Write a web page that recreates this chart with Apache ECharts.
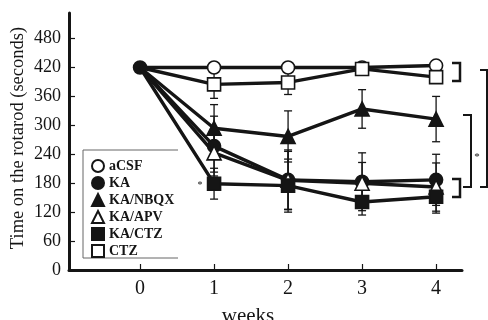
<!DOCTYPE html>
<html><head><meta charset="utf-8">
<script src="https://cdn.jsdelivr.net/npm/echarts@6/dist/echarts.min.js"></script>
<style>html,body{margin:0;padding:0;background:#fff}#c{width:488px;height:320px}</style>
</head><body><div id="c"></div>
<script>
const weeks = [0, 1, 2, 3, 4];
const yTicks = [0, 60, 120, 180, 240, 300, 360, 420, 480];
const groups = ['aCSF', 'KA', 'KA/NBQX', 'KA/APV', 'KA/CTZ', 'CTZ'];
const aCSF    = [420, 420, 420, 420, 424];
const KA      = [420, 257, 187, 183, 187];
const KA_NBQX = [420, 294, 277, 334, 313];
const KA_APV  = [420, 243, 186, 180, 172];
const KA_CTZ  = [420, 179, 175, 141, 152];
const CTZ     = [420, 385, 389, 417, 400];
const err_aCSF    = [0, 5, 5, 5, 5];
const err_KA      = [0, 62, 62, 60, 53];
const err_KA_NBQX = [0, 49, 53, 40, 47];
const err_KA_APV  = [0, 40, 60, 43, 50];
const err_KA_CTZ  = [0, 32, 55, 27, 34];
const err_CTZ     = [0, 29, 25, 6, 8];

const means = [aCSF, KA, KA_NBQX, KA_APV, KA_CTZ, CTZ];
const errs = [err_aCSF, err_KA, err_KA_NBQX, err_KA_APV, err_KA_CTZ, err_CTZ];
const symbols = ['circle', 'circle', 'triangle', 'triangle', 'rect', 'rect'];
const filled = [false, true, true, false, true, false];
const symSize = [13, 13, 14, 14, 13, 13];
const drawOrder = [4, 1, 2, 3, 0, 5];
const baselineShown = 1; // at week 0 all groups coincide; the KA marker is the one visible

const serif = '"Liberation Serif", "DejaVu Serif", serif';
const ink = '#151515';

function renderErr(params, api) {
  const x = api.value(0), m = api.value(1), e = api.value(2);
  if (!e) return null;
  const top = api.coord([x, m + e]), bot = api.coord([x, m - e]);
  const hw = 4;
  const st = { stroke: ink, lineWidth: 1.3 };
  return { type: 'group', children: [
    { type: 'line', shape: { x1: top[0], y1: top[1], x2: bot[0], y2: bot[1] }, style: st },
    { type: 'line', shape: { x1: top[0] - hw, y1: top[1], x2: top[0] + hw, y2: top[1] }, style: st },
    { type: 'line', shape: { x1: bot[0] - hw, y1: bot[1], x2: bot[0] + hw, y2: bot[1] }, style: st }
  ]};
}

const series = [];
drawOrder.forEach(i => {
  series.push({
    name: 'eb_' + groups[i], type: 'custom', z: 1, silent: true,
    renderItem: renderErr,
    data: weeks.map((w, k) => [w, means[i][k], errs[i][k]])
  });
});
drawOrder.forEach(i => {
  series.push({
    name: groups[i], type: 'line', z: 3 + i,
    symbol: symbols[i], symbolSize: symSize[i], showAllSymbol: true,
    lineStyle: { color: ink, width: 3.4 },
    itemStyle: { color: filled[i] ? ink : '#fff', borderColor: ink, borderWidth: 1.6, opacity: 1 },
    emphasis: { disabled: true },
    data: weeks.map((w, k) => (k === 0 && i !== baselineShown)
      ? { value: [w, means[i][k]], symbol: 'none' }
      : [w, means[i][k]])
  });
});

const chart = echarts.init(document.getElementById('c'), null, { renderer: 'canvas' });
chart.setOption({
  animation: false,
  backgroundColor: '#fff',
  grid: { left: 69, right: 26, top: 13, bottom: 50 },
  xAxis: {
    type: 'value', min: -0.96, max: 4.35,
    axisLine: { onZero: false, lineStyle: { color: ink, width: 3 } },
    axisTick: { inside: true, length: 6, lineStyle: { color: ink, width: 1.2 }, customValues: weeks },
    axisLabel: { customValues: weeks, color: ink, fontFamily: serif, fontSize: 20, margin: 9 },
    splitLine: { show: false }
  },
  yAxis: {
    type: 'value', min: 0, max: 533,
    axisLine: { show: true, onZero: false, lineStyle: { color: ink, width: 3 } },
    axisTick: { show: true, inside: true, length: 6, lineStyle: { color: ink, width: 1.2 }, customValues: yTicks },
    axisLabel: { customValues: yTicks, color: ink, fontFamily: serif, fontSize: 18, margin: 8 },
    splitLine: { show: false }
  },
  legend: {
    orient: 'vertical', left: 91, top: 159, padding: 0,
    itemWidth: 12, itemHeight: 12, itemGap: 3,
    lineStyle: { width: 0, opacity: 0 },
    textStyle: { fontFamily: serif, fontWeight: 'bold', fontSize: 14, color: ink },
    data: groups.map((g, i) => ({ name: g, icon: symbols[i] }))
  },
  graphic: [
    { type: 'text', x: 18, y: 138, rotation: Math.PI / 2,
      style: { text: 'Time on the rotarod (seconds)', font: '18.5px ' + serif, fill: ink, align: 'center', verticalAlign: 'middle' } },
    { type: 'text', x: 248, y: 316,
      style: { text: 'weeks', font: '21px ' + serif, fill: ink, align: 'center', verticalAlign: 'middle' } },
    { type: 'polyline', shape: { points: [[178, 150], [83, 150], [83, 258], [178, 258]] },
      style: { stroke: '#666', lineWidth: 1, fill: null } },
    { type: 'polyline', shape: { points: [[452, 63], [460, 63], [460, 81], [452, 81]] },
      style: { stroke: ink, lineWidth: 2.5, fill: null } },
    { type: 'polyline', shape: { points: [[452, 179], [460, 179], [460, 197], [452, 197]] },
      style: { stroke: ink, lineWidth: 2.5, fill: null } },
    { type: 'polyline', shape: { points: [[463, 115], [471, 115], [471, 187], [463, 187]] },
      style: { stroke: ink, lineWidth: 2, fill: null } },
    { type: 'polyline', shape: { points: [[480, 70], [487, 70], [487, 187], [480, 187]] },
      style: { stroke: ink, lineWidth: 2, fill: null } },
    { type: 'text', x: 477, y: 157,
      style: { text: '*', font: '11px ' + serif, fill: ink, align: 'center', verticalAlign: 'middle' } },
    { type: 'text', x: 200, y: 185,
      style: { text: '*', font: '10px ' + serif, fill: ink, align: 'center', verticalAlign: 'middle' } }
  ],
  series: series
});
</script></body></html>
